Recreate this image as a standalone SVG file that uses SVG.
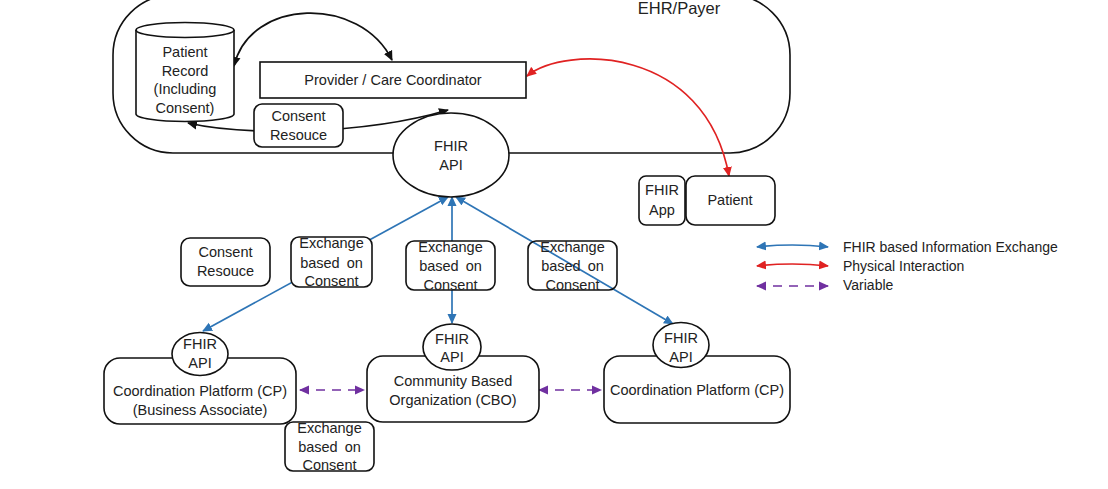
<svg xmlns="http://www.w3.org/2000/svg" width="1108" height="489" viewBox="0 0 1108 489">
<style>
text{font-family:"Liberation Sans",Arial,sans-serif;font-size:14.5px;fill:#222;text-anchor:middle}
.n{fill:#fff;stroke:#111;stroke-width:1.6}
.nf{fill:none;stroke:#111;stroke-width:1.6}
.k{fill:none;stroke:#111;stroke-width:1.7}
.b{fill:none;stroke:#2E75B6;stroke-width:1.7}
.r{fill:none;stroke:#E02222;stroke-width:1.7}
.p{fill:none;stroke:#7030A0;stroke-width:1.7;stroke-dasharray:9 7}
.lg{text-anchor:start;font-size:14px}
</style>
<defs>
<marker id="ak" viewBox="0 0 10 10" refX="9" refY="5" markerWidth="10" markerHeight="10" markerUnits="userSpaceOnUse" orient="auto-start-reverse"><path d="M0,0.5 L10,5 L0,9.5 Z" fill="#111"/></marker>
<marker id="ab" viewBox="0 0 10 10" refX="9" refY="5" markerWidth="10" markerHeight="10" markerUnits="userSpaceOnUse" orient="auto-start-reverse"><path d="M0,0.5 L10,5 L0,9.5 Z" fill="#2E75B6"/></marker>
<marker id="ar" viewBox="0 0 10 10" refX="9" refY="5" markerWidth="10" markerHeight="10" markerUnits="userSpaceOnUse" orient="auto-start-reverse"><path d="M0,0.5 L10,5 L0,9.5 Z" fill="#E02222"/></marker>
<marker id="ap" viewBox="0 0 10 10" refX="9" refY="5" markerWidth="10" markerHeight="10" markerUnits="userSpaceOnUse" orient="auto-start-reverse"><path d="M0,0.5 L10,5 L0,9.5 Z" fill="#7030A0"/></marker>
</defs>
<rect width="1108" height="489" fill="#fff"/>

<g id="ehr-payer">
<rect x="113" y="-5" width="677" height="158" rx="60" ry="60" class="nf"/>
<text x="679" y="14" style="font-size:16.5px">EHR/Payer</text>
</g>

<g id="connectors">
<path class="k" d="M234,66 C250,-2 360,-5 392,60" marker-start="url(#ak)" marker-end="url(#ak)"/>
<path class="k" d="M188,123 C240,135 360,136 448,110" marker-start="url(#ak)" marker-end="url(#ak)"/>
<path class="r" d="M527,76 C565,45 705,45 729,176" marker-start="url(#ar)" marker-end="url(#ar)"/>
<line class="b" x1="448" y1="197" x2="203" y2="331" marker-start="url(#ab)" marker-end="url(#ab)"/>
<line class="b" x1="452" y1="197" x2="452" y2="323" marker-start="url(#ab)" marker-end="url(#ab)"/>
<line class="b" x1="456" y1="197" x2="673" y2="324" marker-start="url(#ab)" marker-end="url(#ab)"/>
<line class="p" x1="300" y1="390" x2="364" y2="390" marker-start="url(#ap)" marker-end="url(#ap)"/>
<line class="p" x1="539" y1="390" x2="601" y2="390" marker-start="url(#ap)" marker-end="url(#ap)"/>
<path class="b" d="M757,247 Q792,243 828,247" marker-start="url(#ab)" marker-end="url(#ab)"/>
<path class="r" d="M757,266 Q792,262 828,266" marker-start="url(#ar)" marker-end="url(#ar)"/>
<line class="p" x1="757" y1="286" x2="828" y2="286" marker-start="url(#ap)" marker-end="url(#ap)"/>
</g>

<g id="patient-record">
<path class="n" d="M136,30 L136,114 A49,7.5 0 0 0 234,114 L234,30"/>
<ellipse class="n" cx="185" cy="30" rx="49" ry="7.5"/>
<text x="185" y="57">Patient</text>
<text x="185" y="75.5">Record</text>
<text x="185" y="94">(Including</text>
<text x="185" y="112.5">Consent)</text>
</g>

<g id="provider">
<rect class="n" x="260" y="62" width="266" height="36"/>
<text x="393" y="85">Provider / Care Coordinator</text>
</g>

<g id="consent-top">
<rect class="n" x="254" y="104" width="89" height="43" rx="8"/>
<text x="298.5" y="121">Consent</text>
<text x="298.5" y="140">Resouce</text>
</g>

<g id="fhir-api-top">
<ellipse class="n" cx="451" cy="155" rx="58" ry="42"/>
<text x="451" y="151">FHIR</text>
<text x="451" y="170">API</text>
</g>

<g id="fhir-app">
<rect class="n" x="639" y="176" width="46" height="49" rx="7"/>
<text x="662" y="195">FHIR</text>
<text x="662" y="215">App</text>
</g>

<g id="patient">
<rect class="n" x="686" y="176" width="89" height="49" rx="9"/>
<text x="730" y="205">Patient</text>
</g>

<g id="consent-lower">
<rect class="n" x="181" y="238" width="89" height="48" rx="9"/>
<text x="225.5" y="257">Consent</text>
<text x="225.5" y="276">Resouce</text>
</g>

<g id="exchange-1">
<rect class="n" x="291" y="237" width="81" height="50" rx="8"/>
<text x="331.5" y="248">Exchange</text>
<text x="331.5" y="268" word-spacing="3">based on</text>
<text x="331.5" y="286">Consent</text>
</g>

<g id="exchange-2">
<rect class="n" x="406" y="241" width="89" height="49" rx="8"/>
<text x="450.5" y="252">Exchange</text>
<text x="450.5" y="271" word-spacing="3">based on</text>
<text x="450.5" y="290">Consent</text>
</g>

<g id="exchange-3">
<rect class="nf" x="528" y="241" width="89" height="49" rx="8"/>
<text x="572.5" y="252">Exchange</text>
<text x="572.5" y="271" word-spacing="3">based on</text>
<text x="572.5" y="290">Consent</text>
</g>

<g id="cp-left">
<rect class="n" x="104" y="358" width="192" height="66" rx="16"/>
<text x="200" y="396">Coordination Platform (CP)</text>
<text x="200" y="415">(Business Associate)</text>
</g>
<g id="fhir-api-left">
<ellipse class="n" cx="200" cy="354" rx="28" ry="21.5"/>
<text x="200" y="349">FHIR</text>
<text x="200" y="368">API</text>
</g>

<g id="cbo">
<rect class="n" x="367" y="356" width="172" height="66" rx="16"/>
<text x="453" y="386">Community Based</text>
<text x="453" y="405">Organization (CBO)</text>
</g>
<g id="fhir-api-cbo">
<ellipse class="n" cx="452" cy="347" rx="29" ry="23"/>
<text x="452" y="344">FHIR</text>
<text x="452" y="362">API</text>
</g>

<g id="cp-right">
<rect class="n" x="604" y="356" width="186" height="67" rx="16"/>
<text x="697" y="395">Coordination Platform (CP)</text>
</g>
<g id="fhir-api-right">
<ellipse class="n" cx="681" cy="345" rx="28" ry="22.5"/>
<text x="681" y="343">FHIR</text>
<text x="681" y="362">API</text>
</g>

<g id="exchange-4">
<rect class="n" x="285" y="422" width="89" height="49" rx="8"/>
<text x="329.5" y="433">Exchange</text>
<text x="329.5" y="452" word-spacing="3">based on</text>
<text x="329.5" y="470">Consent</text>
</g>

<g id="legend">
<text class="lg" x="843" y="252">FHIR based Information Exchange</text>
<text class="lg" x="843" y="271">Physical Interaction</text>
<text class="lg" x="843" y="290">Variable</text>
</g>
</svg>
